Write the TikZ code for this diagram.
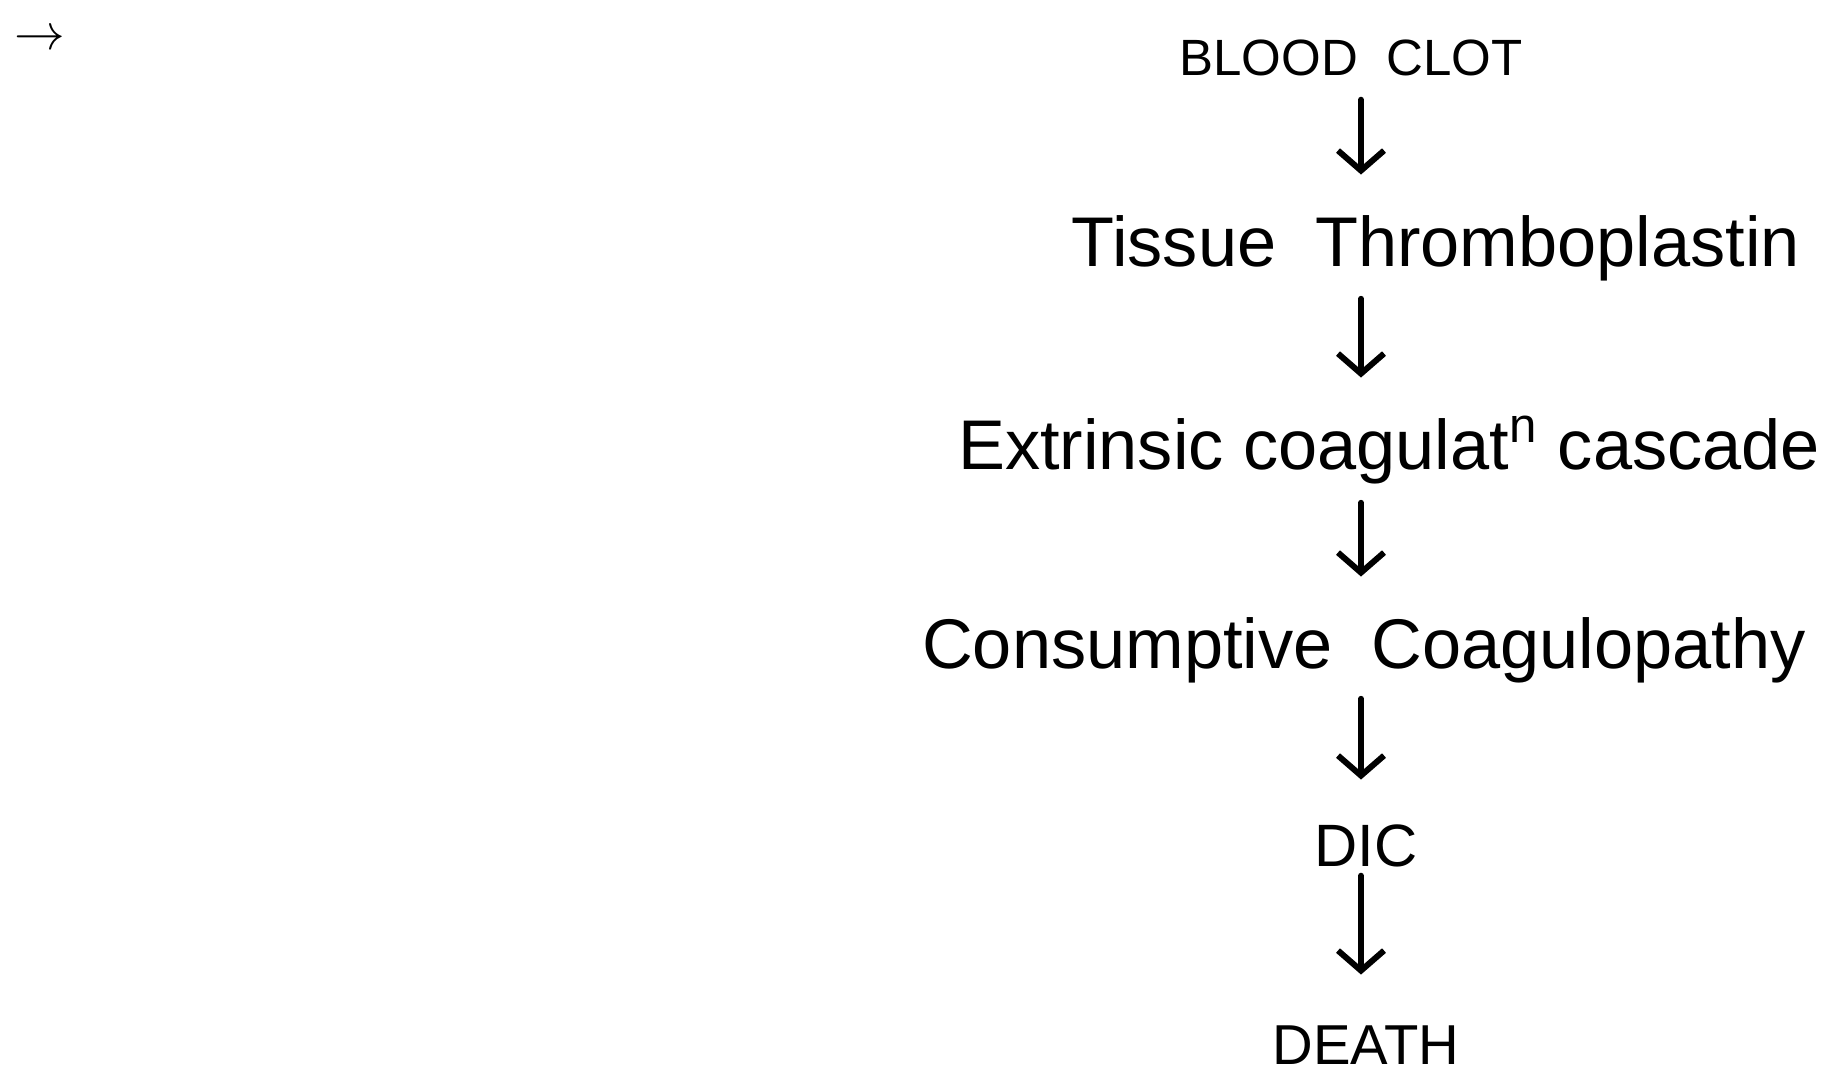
\documentclass[tikz,border=0pt]{standalone}
\usepackage{fontspec}
\setmainfont{Liberation Sans}
\usepackage{tikz}
\usetikzlibrary{arrows.meta, positioning, calc}

\tikzset{
  stage/.style={inner sep=0pt, anchor=base, text height=15pt, text depth=4pt, font=\fontsize{20}{24}\selectfont},
  caps/.style={stage, text depth=0pt, font=\fontsize{16}{19}\selectfont},
  flow/.style={-{Straight Barb[length=0.2cm, width=0.46cm, line width=1.7pt]}, line width=1.7pt, shorten <=0.15cm, shorten >=0.38cm}
}

\begin{document}
\begin{tikzpicture}[x=0.01cm, y=-0.01cm, line cap=round]
    \useasboundingbox (0,0) rectangle (1830,1072);
    % Nodes
    \node (mark) [font=\fontsize{14}{16}\selectfont, inner sep=0pt] at (40,40) {$\rightarrow$};
    \node (blood) [caps, font=\fontsize{14.5}{17}\selectfont] at (1351,75) {BLOOD\ \ CLOT};
    \node (tissue) [stage] at (1436,266) {Tissue\ \ Thromboplastin};
    \node (extrinsic) [stage] at (1389,469) {Extrinsic coagulat\textsuperscript{n} cascade};
    \node (consumptive) [stage] at (1364,668) {Consumptive\ \ Coagulopathy};
    \node (dic) [caps, font=\fontsize{17}{20}\selectfont] at (1366,866) {DIC};
    \node (death) [caps] at (1366,1064) {DEATH};
    \coordinate (axis) at (1361,0);

    % Flow
    \draw[flow, shorten <=0.24cm] (blood.south -| axis) -- (tissue.north -| axis);
    \draw[flow, shorten <=0.18cm] (tissue.south -| axis) -- (extrinsic.north -| axis);
    \draw[flow, shorten <=0.19cm] (extrinsic.south -| axis) -- (consumptive.north -| axis);
    \draw[flow, shorten <=0.16cm, shorten >=0.33cm] (consumptive.south -| axis) -- (dic.north -| axis);
    \draw[flow, shorten <=0.09cm, shorten >=0.36cm] (dic.south -| axis) -- (death.north -| axis);
\end{tikzpicture}
\end{document}
